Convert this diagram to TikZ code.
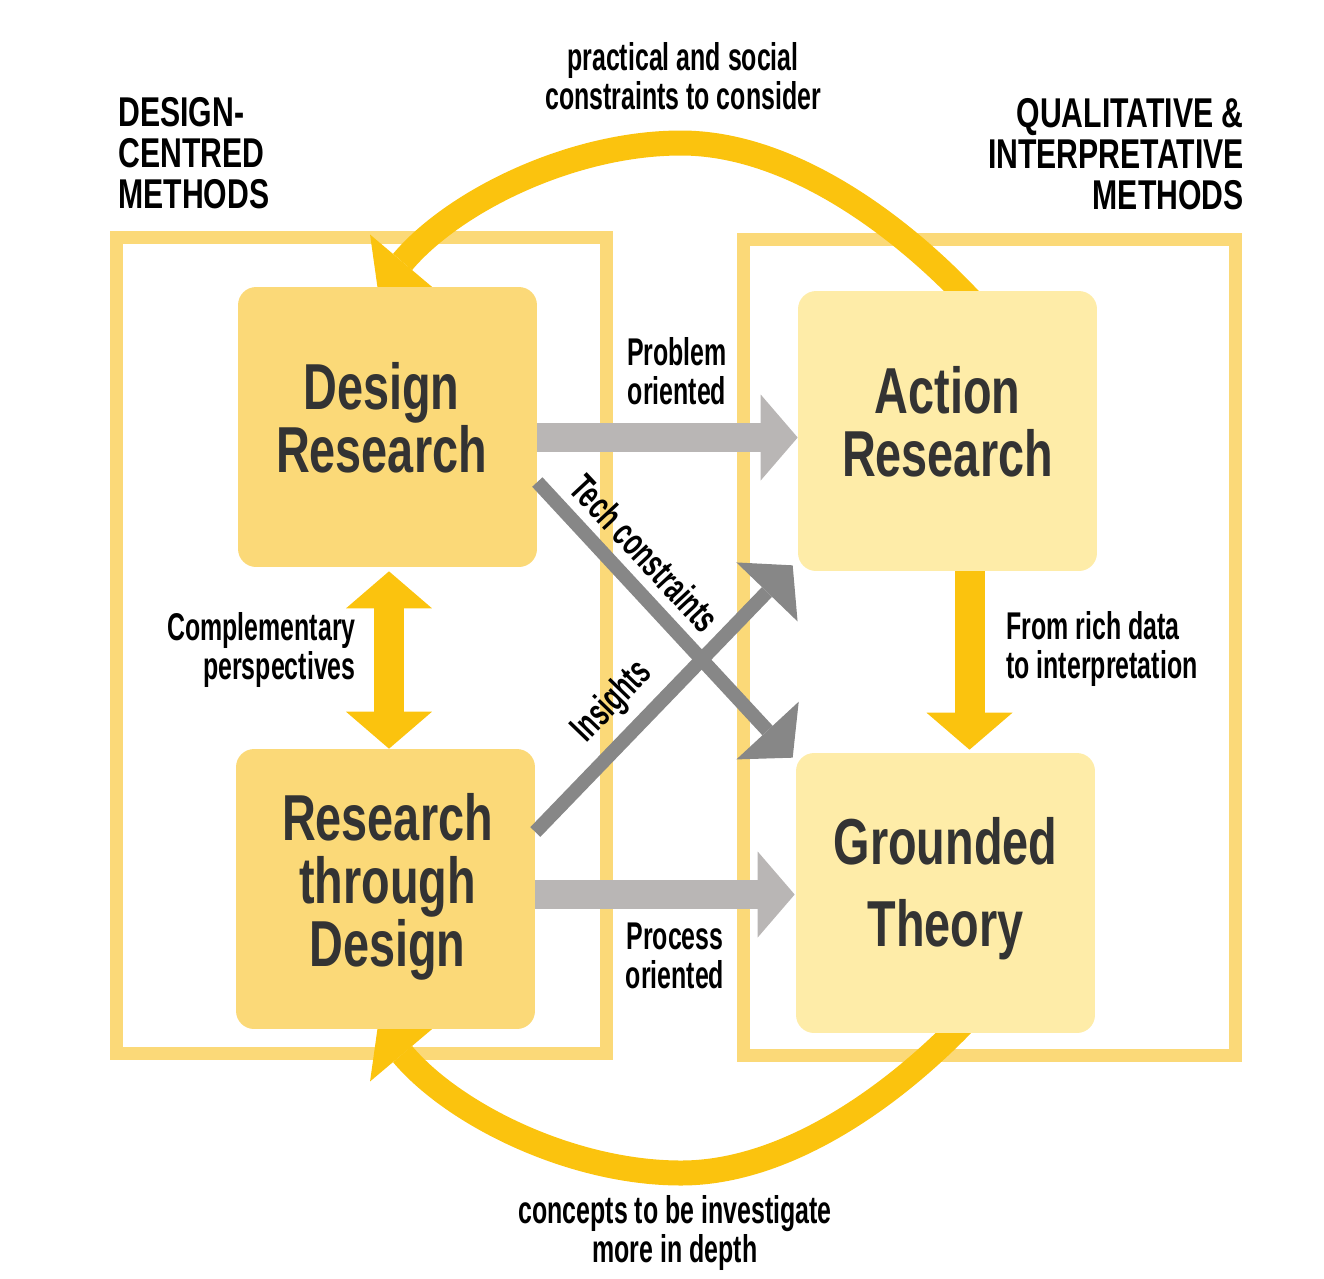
\documentclass[tikz,border=0pt]{standalone}
\usepackage{fontspec}
\setmainfont{Liberation Sans}
\newfontfamily\labfont[FakeStretch=0.645]{Liberation Sans}
\newfontfamily\headfont[FakeStretch=0.725]{Liberation Sans}
\newfontfamily\boxfont[FakeStretch=0.72]{Liberation Sans}
\usetikzlibrary{arrows.meta,calc}
\definecolor{frameY}{RGB}{251,217,120}
\definecolor{lightY}{RGB}{254,236,168}
\definecolor{orangeY}{RGB}{251,195,14}
\definecolor{grayH}{RGB}{185,182,181}
\definecolor{grayD}{RGB}{135,135,135}
\definecolor{boxtext}{RGB}{51,51,51}
\tikzset{
  frame/.style={draw=frameY, line width=0.26cm},
  dbox/.style={fill=frameY, rounded corners=0.36cm, minimum width=5.98cm, minimum height=5.6cm, inner sep=0pt},
  lbox/.style={dbox, fill=lightY},
  boxtxt/.style={inner sep=0pt, align=center, text=boxtext, font=\boxfont\bfseries\fontsize{37}{35.8}\selectfont},
  bigtip/.style={-{Triangle[width=1.72cm,length=0.74cm,line width=0pt]}},
  orangearc/.style={draw=orangeY, line width=0.5cm, -{Triangle[width=1.7cm,length=0.76cm,line width=0pt]}},
  orangebar/.style={draw=orangeY, line width=0.6cm, bigtip},
  orangedbl/.style={draw=orangeY, line width=0.6cm, {Triangle[width=1.72cm,length=0.74cm,line width=0pt]}-{Triangle[width=1.72cm,length=0.74cm,line width=0pt]}},
  grayhor/.style={draw=grayH, line width=0.58cm, bigtip},
  graydiag/.style={draw=grayD, line width=0.28cm, -{Triangle[width=1.7cm,length=0.74cm,line width=0pt]}},
  lab/.style={inner sep=0pt, text=black, font=\labfont\bfseries\fontsize{22}{22.4}\selectfont},
  head/.style={inner sep=0pt, text=black, font=\headfont\bfseries\fontsize{23.7}{23.3}\selectfont}
}
\begin{document}
\begin{tikzpicture}[x=0.02cm,y=-0.02cm]
\useasboundingbox (0,0) rectangle (1324,1278);
% frames
\draw[frame] (116.5,237.5) rectangle (606.5,1053.5);
\draw[frame] (743.5,239.5) rectangle (1235.5,1055.5);
% helper coordinates for arcs (start inside the boxes)
\coordinate (arcTs) at (971,301);
\coordinate (arcTm) at (681,143);
\coordinate (arcTe) at (378,291);
\coordinate (arcBs) at (971,1015);
\coordinate (arcBm) at (681,1173);
\coordinate (arcBe) at (378,1025);
% arcs
\draw[orangearc] (arcTs) .. controls (900,225) and (790,143) .. (arcTm)
   .. controls (572,143) and (454,201) .. (arcTe);
\draw[orangearc] (arcBs) .. controls (900,1091) and (790,1173) .. (arcBm)
   .. controls (572,1173) and (454,1115) .. (arcBe);
% boxes
\node[dbox] (dr) at (387.5,427) {};
\node[dbox] (rtd) at (385.5,889) {};
\node[lbox] (ar) at (947.5,431) {};
\node[lbox] (gt) at (945.5,893) {};
% box texts
\node[boxtxt] (tdr) at ($(dr.center)+(-6,-9)$) {Design\\Research};
\node[boxtxt] (trtd) at ($(rtd.center)+(2,-2)$) {Research\\through\\Design};
\node[boxtxt] (tar) at ($(ar.center)+(0,-9)$) {Action\\Research};
\node[boxtxt, font=\boxfont\bfseries\fontsize{37}{46.5}\selectfont] (tgt) at ($(gt.center)+(0,-4)$) {Grounded\\Theory};
% horizontal gray arrows
\draw[grayhor] ($(dr.east)+(0,10.5)$) -- ($(ar.west)+(0,6.5)$);
\draw[grayhor] ($(rtd.east)+(0,5.5)$) -- ($(gt.west)+(-1,1.5)$);
% diagonal gray arrows
\draw[graydiag] ($(dr.east)+(0,55)$) -- ($(gt.north west)+(-3,5)$);
\draw[graydiag] ($(rtd.east)+(0,-57)$) -- ($(ar.south west)+(-5,-6)$);
% orange vertical arrows
\draw[orangedbl] ($(dr.south)+(1.5,4)$) -- ($(rtd.north)+(3.5,0)$);
\draw[orangebar] ($(ar.south)+(22,0)$) -- ($(gt.north)+(24,-3)$);
% labels
\node[lab, align=center] (lprob) at (677,371) {Problem\\oriented};
\node[lab, align=center] (lproc) at (675,956) {Process\\oriented};
\node[lab, align=right, anchor=east] (lcomp) at (356,650) {Complementary\\perspectives};
\node[lab, align=left, anchor=west] (lrich) at (1006,649) {From rich data\\to interpretation};
\node[lab, rotate=-47] (ltech) at (645,553) {Tech constraints};
\node[lab, rotate=46] (lins) at (613,702) {Insights};
\node[lab, align=center] (ltop) at (683,76) {practical and social\\constraints to consider};
\node[lab, align=center] (lbot) at (675,1233) {concepts to be investigate\\more in depth};
\node[head, align=left, anchor=west] (hl) at (118,153) {DESIGN-\\CENTRED\\METHODS};
\node[head, align=right, anchor=east] (hr) at (1244,154) {QUALITATIVE \&\\INTERPRETATIVE\\METHODS};
\end{tikzpicture}
\end{document}
